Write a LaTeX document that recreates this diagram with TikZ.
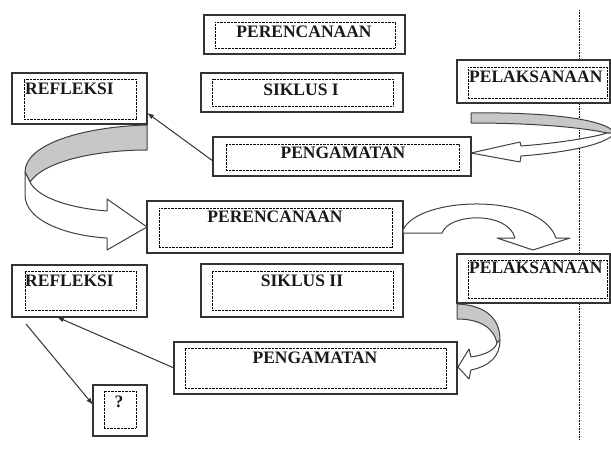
\documentclass[tikz,border=0pt]{standalone}
\usepackage{fontspec}
\setmainfont{Liberation Serif}
\usetikzlibrary{arrows.meta}
\begin{document}
\begin{tikzpicture}[x=1pt,y=-1pt,
  obox/.style={draw=black!80, line width=1.2pt, fill=white, inner sep=0pt, outer sep=0pt},
  ibox/.style={draw=black, line width=0.7pt, dash pattern=on 0.7pt off 0.7pt, inner sep=0pt},
  lbl/.style={font=\fontsize{17.5}{20}\selectfont\bfseries, inner sep=0pt, text=black!90},
  gface/.style={draw=black!75, line width=1pt, line join=round, fill=black!22},
  wface/.style={draw=black!75, line width=1pt, line join=round, fill=white},
  linkarrow/.style={draw=black!80, line width=1pt, -{Latex[length=7pt,width=5pt]}},
  vline/.style={draw=black, line width=0.7pt, dash pattern=on 0.7pt off 0.9pt}]
\useasboundingbox (0,0) rectangle (611,450);

% vertical dotted line
\coordinate (vtop) at (579,10);
\coordinate (vbot) at (579,440);
\draw[vline] (vtop) -- (vbot);

% ---- boxes ----
% PERENCANAAN (top)
\node[obox, minimum width=201pt, minimum height=39pt] (plan1) at (304.5,34.5) {};
\node[ibox, minimum width=180pt, minimum height=26pt] (plan1i) at (305,35) {};
\node[lbl] (plan1t) at (304,32) {PERENCANAAN};
% REFLEKSI 1
\node[obox, minimum width=135pt, minimum height=51pt] (refl1) at (79.5,98.5) {};
\node[ibox, minimum width=112pt, minimum height=40pt] (refl1i) at (80,99) {};
\node[lbl, anchor=west] (refl1t) at (25,89) {REFLEKSI};
% SIKLUS I
\node[obox, minimum width=202pt, minimum height=39pt] (sik1) at (302,92.5) {};
\node[ibox, minimum width=181pt, minimum height=27pt] (sik1i) at (302.5,92.5) {};
\node[lbl] (sik1t) at (301,90) {SIKLUS I};
% PELAKSANAAN 1
\node[obox, minimum width=153pt, minimum height=43pt] (pel1) at (533.5,81.5) {};
\node[ibox, minimum width=139pt, minimum height=31pt] (pel1i) at (537.5,82.5) {};
\node[lbl, anchor=west] (pel1t) at (469,76.5) {PELAKSANAAN};
% PENGAMATAN 1
\node[obox, minimum width=258pt, minimum height=39pt] (peng1) at (342,156.5) {};
\node[ibox, minimum width=233pt, minimum height=26pt] (peng1i) at (342.5,157) {};
\node[lbl] (peng1t) at (343,153) {PENGAMATAN};
% PERENCANAAN 2
\node[obox, minimum width=256pt, minimum height=52pt] (plan2) at (275,227) {};
\node[ibox, minimum width=233pt, minimum height=39pt] (plan2i) at (275.5,227.5) {};
\node[lbl] (plan2t) at (275,217) {PERENCANAAN};
% REFLEKSI 2
\node[obox, minimum width=135pt, minimum height=52pt] (refl2) at (79.5,291) {};
\node[ibox, minimum width=111pt, minimum height=39pt] (refl2i) at (80.5,290.5) {};
\node[lbl, anchor=west] (refl2t) at (25,281) {REFLEKSI};
% SIKLUS II
\node[obox, minimum width=202pt, minimum height=53pt] (sik2) at (302,290.5) {};
\node[ibox, minimum width=181pt, minimum height=39pt] (sik2i) at (302.5,290.5) {};
\node[lbl] (sik2t) at (302,281) {SIKLUS II};
% PELAKSANAAN 2
\node[obox, minimum width=153pt, minimum height=49pt] (pel2) at (533.5,278.5) {};
\node[ibox, minimum width=139pt, minimum height=38pt] (pel2i) at (537.5,279) {};
\node[lbl, anchor=west] (pel2t) at (469,268) {PELAKSANAAN};
% PENGAMATAN 2
\node[obox, minimum width=283pt, minimum height=52pt] (peng2) at (315.5,368) {};
\node[ibox, minimum width=261pt, minimum height=40pt] (peng2i) at (315.5,368) {};
\node[lbl] (peng2t) at (315,358) {PENGAMATAN};
% ? box
\node[obox, minimum width=54pt, minimum height=51pt] (qbox) at (120,410.5) {};
\node[ibox, minimum width=32pt, minimum height=37pt] (qboxi) at (120,409.5) {};
\node[lbl] (qboxt) at (119,402) {?};

% ---- block arrows ----
% PELAKSANAAN 1 -> PENGAMATAN 1
\draw[gface] (471,113) .. controls (540,112) and (605,118) .. (615,133)
  -- (607,133) .. controls (580,127) and (530,123) .. (471,123) -- cycle;
\draw[wface] (615,133) .. controls (605,146) and (560,153) .. (521,156)
  -- (520,162) -- (471,153) -- (520,142) -- (521,146)
  .. controls (560,143) and (595,137) .. (607,133) -- cycle;

% REFLEKSI 1 -> PERENCANAAN 2
\draw[gface] (147,125) .. controls (80,127) and (25,145) .. (25,172)
  -- (30,182) .. controls (45,160) and (100,150) .. (147,150) -- cycle;
\draw[wface] (25,172) -- (25,195) .. controls (25,222) and (70,236) .. (107,238)
  -- (107,250) -- (147,227) -- (107,199) -- (107,211)
  .. controls (70,208) and (38,198) .. (30,182) -- cycle;

% PERENCANAAN 2 -> PELAKSANAAN 2
\draw[wface] (403,233) -- (403,230) .. controls (418,196) and (540,192) .. (556,238)
  -- (570,238) -- (533,250) -- (497,238) -- (515,238)
  .. controls (508,211) and (449,213) .. (442,233) -- cycle;

% PELAKSANAAN 2 -> PENGAMATAN 2
\draw[gface] (457,304) .. controls (485,305) and (500,318) .. (500,340)
  -- (497,343) .. controls (494,328) and (480,319) .. (457,319) -- cycle;
\draw[wface] (500,340) .. controls (500,356) and (490,366) .. (471,370)
  -- (469,379) -- (458,367) -- (469,349) -- (471,357)
  .. controls (485,355) and (495,350) .. (497,343) -- cycle;

% ---- thin arrows ----
\draw[linkarrow] (peng1.182) -- (refl1.348);
\draw[linkarrow] (peng2.west) -- (refl2.229);
\coordinate (r2tail) at (26,324);
\draw[linkarrow] (r2tail) -- (qbox.168);
\end{tikzpicture}
\end{document}
